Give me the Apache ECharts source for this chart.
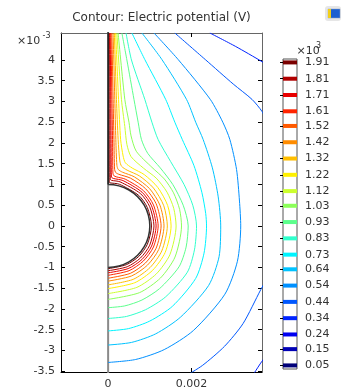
<!DOCTYPE html>
<html>
<head>
<meta charset="utf-8">
<title>Contour: Electric potential (V)</title>
<script src="https://cdn.jsdelivr.net/npm/echarts@6/dist/echarts.min.js"></script>
<style>
html, body { margin: 0; padding: 0; background: #fff; }
#chartone { width: 341px; height: 392px; }
</style>
</head>
<body>
<div id="chartone"></div>
<script>
// contour levels (x10^3 V), one colour each
var levels = [1.91, 1.81, 1.71, 1.61, 1.52, 1.42, 1.32, 1.22, 1.12, 1.03, 0.93, 0.83, 0.73, 0.64, 0.54, 0.44, 0.34, 0.24, 0.15, 0.05];
var levelColors = ['#7a0000', '#b00000', '#e80000', '#ff2400', '#ff5a00', '#ff8c00', '#ffbe00', '#fff000', '#ccff2e', '#8cff5a',
  '#5cff8c', '#30ffcc', '#00f4ff', '#00c2ff', '#0090ff', '#0058ff', '#0024ff', '#0000f0', '#0000b4', '#000078'];

// axis ticks (coordinates in 1e-3 m)
var xTicks = [0, 2];
var xTickLabels = ['0', '0.002'];
var yTicks = [-3.5, -3, -2.5, -2, -1.5, -1, -0.5, 0, 0.5, 1, 1.5, 2, 2.5, 3, 3.5, 4];
var yTickLabels = ['-3.5', '-3', '-2.5', '-2', '-1.5', '-1', '-0.5', '0', '0.5', '1', '1.5', '2', '2.5', '3', '3.5', '4'];

// geometry: symmetry axis, wire, sphere edge
var symAxis = [[0, -3.6], [0, 4.7]];
var wire = [[0, 1], [0, 4.7]];
var sphereEdge = [[0, 1], [0.259, 0.966], [0.5, 0.866], [0.707, 0.707], [0.866, 0.5], [0.966, 0.259], [1, 0],
  [0.966, -0.259], [0.866, -0.5], [0.707, -0.707], [0.5, -0.866], [0.259, -0.966], [0, -1]];

// contour lines (x, y in 1e-3 m)
var c191 = [[0.020, 4.65], [0.022, 3.05], [0.024, 2.08], [0.026, 1.056], [0.030, 1.044], [0.043, 1.039], [0.269, 1.005], [0.735, 0.735], [0.942, 0.44], [1.04, 0], [0.942, -0.44], [0.735, -0.735], [0.436, -0.934], [0, -1.03]];
var c181 = [[0.035, 4.65], [0.045, 3.05], [0.048, 2.08], [0.052, 1.137], [0.062, 1.108], [0.09, 1.096], [0.285, 1.063], [0.778, 0.778], [0.997, 0.465], [1.10, 0], [0.997, -0.465], [0.774, -0.774], [0.459, -0.983], [0, -1.08]];
var c171 = [[0.05, 4.65], [0.065, 3.05], [0.072, 2.08], [0.078, 1.204], [0.092, 1.161], [0.135, 1.142], [0.355, 1.094], [0.813, 0.813], [1.042, 0.486], [1.15, 0], [1.042, -0.486], [0.81, -0.81], [0.48, -1.028], [0, -1.13]];
var c161 = [[0.07, 4.65], [0.09, 3.05], [0.106, 2.08], [0.115, 1.273], [0.135, 1.214], [0.194, 1.184], [0.41, 1.128], [0.849, 0.849], [1.087, 0.507], [1.2, 0], [1.087, -0.508], [0.845, -0.845], [0.503, -1.078], [0, -1.19]];
var c152 = [[0.09, 4.65], [0.12, 3.05], [0.14, 2.08], [0.155, 1.367], [0.182, 1.287], [0.261, 1.243], [0.537, 1.151], [0.898, 0.898], [1.151, 0.537], [1.27, 0], [1.151, -0.537], [0.894, -0.894], [0.533, -1.142], [0, -1.26]];
var c142 = [[0.12, 4.65], [0.16, 3.05], [0.185, 2.08], [0.21, 1.461], [0.244, 1.358], [0.348, 1.294], [0.628, 1.183], [0.996, 0.897], [1.242, 0.502], [1.34, 0], [1.214, -0.567], [0.944, -0.944], [0.563, -1.205], [0, -1.33]];
var c132 = [[0.15, 4.65], [0.20, 3.05], [0.24, 2.08], [0.28, 1.567], [0.324, 1.436], [0.455, 1.345], [0.753, 1.204], [1.088, 0.913], [1.335, 0.486], [1.42, 0], [1.287, -0.601], [1.004, -1.004], [0.601, -1.287], [0, -1.42]];
var c122 = [[0.18, 4.65], [0.25, 3.05], [0.30, 2.08], [0.36, 1.684], [0.414, 1.521], [0.578, 1.395], [0.867, 1.237], [1.19, 0.93], [1.428, 0.492], [1.51, 0], [1.368, -0.639], [1.068, -1.068], [0.639, -1.368], [0, -1.51]];
var c112 = [[0.21, 4.65], [0.32, 3.05], [0.40, 2.4], [0.45, 1.967], [0.55, 1.67], [0.85, 1.391], [1.153, 1.153], [1.412, 0.815], [1.574, 0.422], [1.63, 0], [1.481, -0.692], [1.156, -1.156], [0.69, -1.48], [0, -1.63]];
var c103 = [[0.24, 4.65], [0.40, 3.05], [0.50, 2.5], [0.55, 2.17], [0.675, 1.8], [1.05, 1.413], [1.348, 1.132], [1.568, 0.799], [1.715, 0.396], [1.76, 0], [1.604, -0.749], [1.255, -1.255], [0.751, -1.608], [0, -1.77]];
var c093 = [[0.33, 4.65], [0.45, 4.0], [0.62, 3.05], [0.72, 2.5], [0.8, 2.08], [0.95, 1.75], [1.25, 1.4], [1.55, 1.0], [1.8, 0.5], [1.92, 0], [1.87, -0.51], [1.70, -0.985], [1.235, -1.509], [0.812, -1.785], [0.399, -1.927], [0, -1.97]];
var c083 = [[0.43, 4.65], [0.56, 4.0], [0.88, 3.05], [1.05, 2.5], [1.2, 2.08], [1.5, 1.55], [1.82, 1.0], [2.03, 0.5], [2.12, 0], [2.07, -0.577], [1.9, -1.115], [1.38, -1.708], [0.896, -2.02], [0.441, -2.181], [0, -2.23]];
var c073 = [[0.57, 4.65], [0.88, 4.01], [1.38, 3.05], [1.6, 2.5], [1.78, 2.08], [2.06, 1.45], [2.25, 0.8], [2.34, 0.3], [2.36, 0], [2.3, -0.655], [2.1, -1.265], [1.54, -1.938], [1.0, -2.292], [0.49, -2.474], [0, -2.53]];
var c064 = [[0.81, 4.65], [1.29, 4.01], [1.88, 3.05], [2.1, 2.5], [2.28, 2.08], [2.5, 1.4], [2.64, 0.7], [2.7, 0], [2.66, -0.743], [2.41, -1.435], [1.736, -2.198], [1.142, -2.6], [0.562, -2.807], [0, -2.87]];
var c054 = [[1.10, 4.65], [1.68, 4.01], [2.45, 3.05], [2.75, 2.5], [2.92, 2.08], [3.08, 1.36], [3.15, 0.6], [3.18, 0], [3.1, -0.852], [2.8, -1.645], [2.045, -2.52], [1.345, -2.98], [0.661, -3.218], [0, -3.29]];
var c044a = [[1.60, 4.65], [2.33, 4.01], [3.0, 3.42], [3.45, 3.05], [3.69, 2.76], [3.85, 2.45]];
var c044b = [[3.85, -1.2], [3.66, -1.536], [3.236, -2.352], [2.793, -2.899], [2.266, -3.359], [1.854, -3.62]];
var c034a = [[2.44, 4.65], [3.05, 4.33], [3.69, 3.96], [3.9, 3.82]];
var c034b = [[3.9, -3.0], [3.69, -3.26], [3.5, -3.55], [3.45, -3.62]];

// [level index, line]
var contourLines = [[0, c191], [1, c181], [2, c171], [3, c161], [4, c152], [5, c142], [6, c132], [7, c122], [8, c112], [9, c103],
  [10, c093], [11, c083], [12, c073], [13, c064], [14, c054], [15, c044a], [15, c044b], [16, c034a], [16, c034b]];

var font = 'DejaVu Sans';
var echartsWarp1 = document.getElementById('chartone');
var myChart1 = echarts.init(echartsWarp1);

var series = [];
// symmetry axis (grey)
series.push({ type: 'line', data: symAxis, symbol: 'none', silent: true, z: 1,
  lineStyle: { color: '#8a8a8a', width: 2 } });
// contours
contourLines.forEach(function (c) {
  series.push({ type: 'line', data: c[1], symbol: 'none', smooth: 0.25, silent: true, z: 2,
    lineStyle: { color: levelColors[c[0]], width: 1 } });
});
// wire and sphere edge
series.push({ type: 'line', data: wire, symbol: 'none', silent: true, z: 3,
  lineStyle: { color: '#1e1e1e', width: 1.5 } });
series.push({ type: 'line', data: sphereEdge, symbol: 'none', smooth: true, silent: true, z: 3,
  lineStyle: { color: '#333', width: 1.5 } });
// colour legend lines
levels.forEach(function (v, i) {
  series.push({ type: 'line', xAxisIndex: 2, yAxisIndex: 2, data: [[0, v], [1, v]], symbol: 'none', silent: true, z: 2,
    lineStyle: { color: levelColors[i], width: 4 } });
});

var option = {
  animation: false,
  grid: [
    { left: 61, top: 33, width: 201, height: 339 },
    { left: 283, top: 59, width: 14, height: 310, show: true, borderColor: '#555', borderWidth: 1, backgroundColor: '#fff' }
  ],
  xAxis: [
    { gridIndex: 0, type: 'value', min: -1.13, max: 3.69, position: 'bottom',
      axisLine: { onZero: false, lineStyle: { color: '#000', width: 1 } },
      axisTick: { inside: true, length: 4, customValues: xTicks, lineStyle: { color: '#000' } },
      axisLabel: { customValues: xTicks, margin: 7, fontFamily: font, fontSize: 11, color: '#333',
        formatter: function (v) { return xTickLabels[xTicks.indexOf(v)]; } },
      splitLine: { show: false } },
    { gridIndex: 0, type: 'value', min: -1.13, max: 3.69, position: 'top',
      axisLine: { onZero: false, lineStyle: { color: '#666', width: 1 } },
      axisTick: { inside: true, length: 4, customValues: xTicks, lineStyle: { color: '#000' } },
      axisLabel: { show: false }, splitLine: { show: false } },
    { gridIndex: 1, type: 'value', min: 0, max: 1, show: false }
  ],
  yAxis: [
    { gridIndex: 0, type: 'value', min: -3.52, max: 4.65, position: 'left',
      axisLine: { show: true, onZero: false, lineStyle: { color: '#000', width: 1 } },
      axisTick: { show: true, inside: true, length: 4, customValues: yTicks, lineStyle: { color: '#000' } },
      axisLabel: { customValues: yTicks, margin: 6, fontFamily: font, fontSize: 11, color: '#333',
        formatter: function (v) { return yTickLabels[yTicks.indexOf(v)]; } },
      splitLine: { show: false } },
    { gridIndex: 0, type: 'value', min: -3.52, max: 4.65, position: 'right',
      axisLine: { show: true, onZero: false, lineStyle: { color: '#666', width: 1 } },
      axisTick: { show: true, inside: true, length: 4, customValues: yTicks, lineStyle: { color: '#000' } },
      axisLabel: { show: false }, splitLine: { show: false } },
    { gridIndex: 1, type: 'value', min: 0.028, max: 1.931, position: 'right',
      axisLine: { show: false },
      axisTick: { show: true, inside: true, length: 3, customValues: levels, lineStyle: { color: '#000' } },
      axisLabel: { customValues: levels, margin: 8, fontFamily: font, fontSize: 11, color: '#333',
        formatter: function (v) { return v.toFixed(2); } },
      splitLine: { show: false } },
    { gridIndex: 1, type: 'value', min: 0.028, max: 1.931, position: 'left',
      axisLine: { show: false },
      axisTick: { show: true, inside: true, length: 3, customValues: levels, lineStyle: { color: '#000' } },
      axisLabel: { show: false }, splitLine: { show: false } }
  ],
  graphic: [
    { type: 'text', x: 161.5, y: 18, style: { text: 'Contour: Electric potential (V)', fontFamily: font, fontSize: 12,
      fill: '#333', align: 'center', verticalAlign: 'middle' } },
    { type: 'text', x: 17, y: 41, style: { text: '×10', fontFamily: font, fontSize: 11, fill: '#333', verticalAlign: 'middle' } },
    { type: 'text', x: 42.5, y: 35.5, style: { text: '-3', fontFamily: font, fontSize: 8, fill: '#333', verticalAlign: 'middle' } },
    { type: 'text', x: 296.5, y: 51.5, style: { text: '×10', fontFamily: font, fontSize: 11, fill: '#333', verticalAlign: 'middle' } },
    { type: 'text', x: 316, y: 46, style: { text: '3', fontFamily: font, fontSize: 8, fill: '#333', verticalAlign: 'middle' } },
    // little window icon in the corner
    { type: 'rect', shape: { x: 325, y: 6, width: 16, height: 15, r: 3 }, style: { fill: '#e6e6e6' } },
    { type: 'rect', shape: { x: 328, y: 9, width: 12, height: 9 }, style: { fill: '#1c5fd0', stroke: '#8aa0c8', lineWidth: 0.5 } },
    { type: 'rect', shape: { x: 328, y: 9, width: 3, height: 9 }, style: { fill: '#f2cf1a' } }
  ],
  series: series
};
myChart1.setOption(option);

window.onresize = function () {
  myChart1.resize();
};
</script>
</body>
</html>
